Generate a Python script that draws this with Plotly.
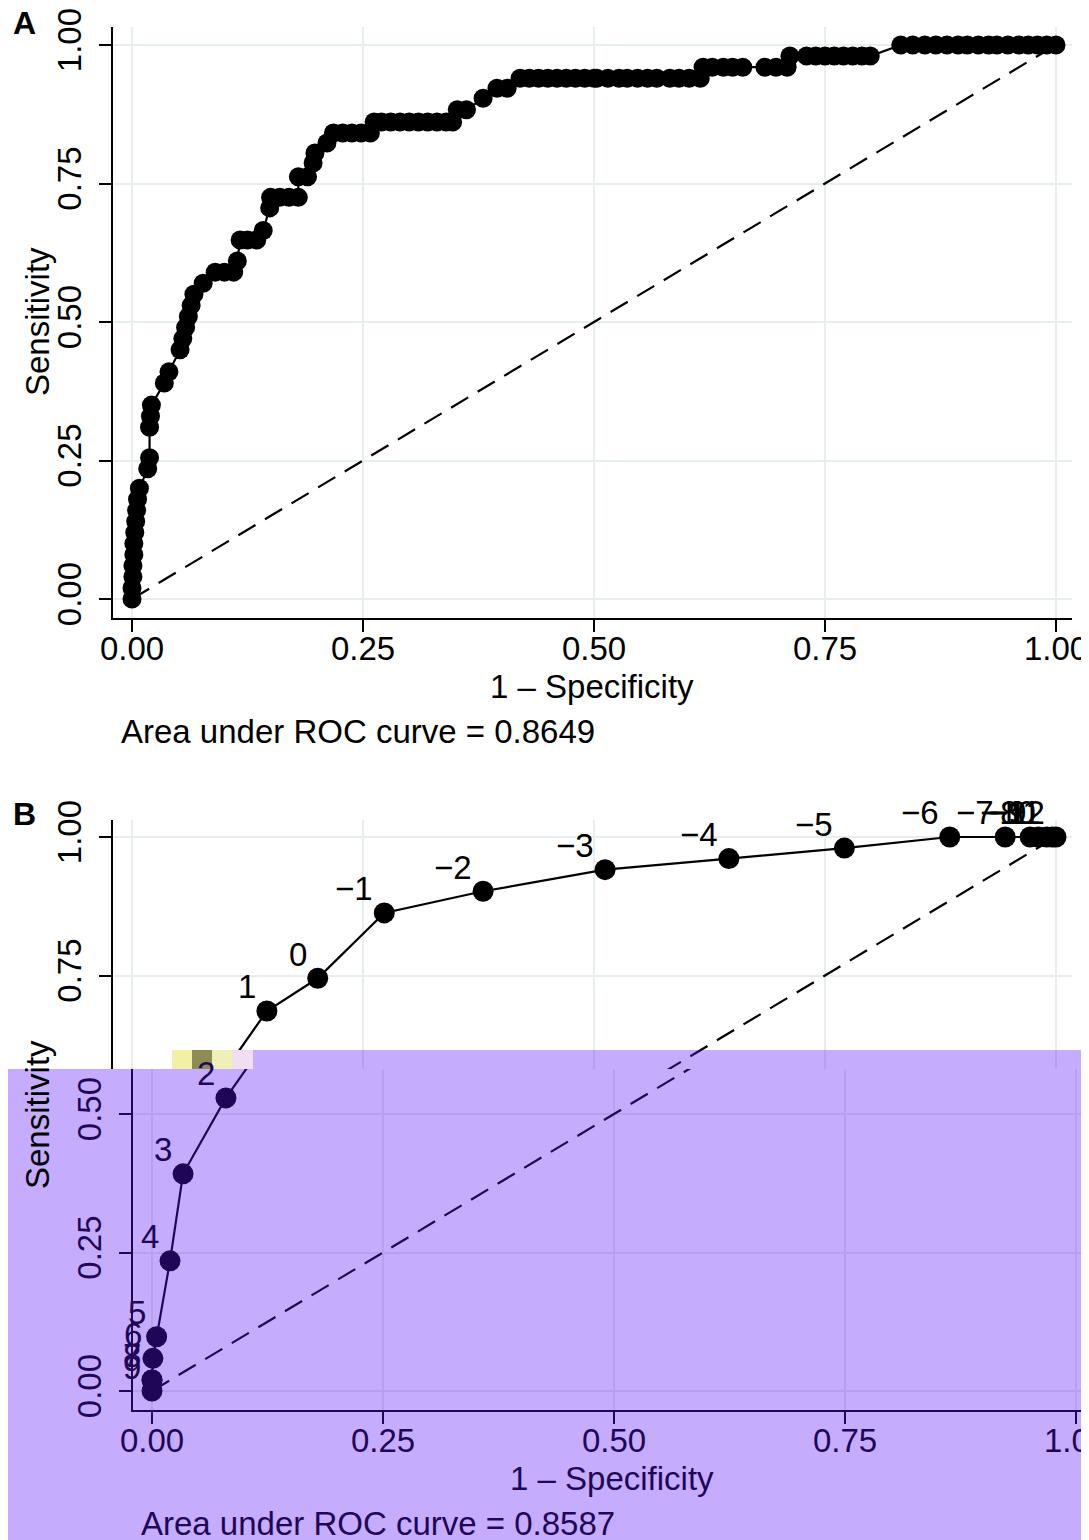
import plotly.graph_objects as go

W, H = 1089, 1540

# ---------------- data ----------------
# Panel A: empirical ROC curve (1 - specificity, sensitivity)
fpr_A = [0, 0, 0.001, 0.001, 0.002, 0.002, 0.003, 0.004, 0.005, 0.006, 0.008,
         0.017, 0.019, 0.019, 0.020, 0.021, 0.035, 0.040,
         0.052, 0.055, 0.058, 0.061, 0.064, 0.067,
         0.077, 0.090, 0.100, 0.110, 0.114,
         0.117, 0.125, 0.135, 0.142,
         0.149, 0.150, 0.160, 0.170, 0.180,
         0.180, 0.190, 0.196, 0.198, 0.211, 0.218, 0.228, 0.238, 0.248, 0.258,
         0.262, 0.270, 0.280, 0.290, 0.300, 0.310, 0.320, 0.330, 0.340, 0.347,
         0.352, 0.362, 0.380, 0.395, 0.406,
         0.420, 0.430, 0.440, 0.450, 0.460, 0.470, 0.480, 0.490, 0.500,
         0.503, 0.515, 0.527, 0.536, 0.547, 0.558, 0.568,
         0.582, 0.592, 0.603, 0.615,
         0.618, 0.628, 0.640, 0.650, 0.661, 0.685, 0.697, 0.709,
         0.712, 0.730, 0.740, 0.750, 0.760, 0.770, 0.780, 0.790, 0.799,
         0.832, 0.845, 0.858, 0.870, 0.882, 0.894, 0.904, 0.916, 0.927,
         0.936, 0.948, 0.960, 0.970, 0.980, 0.990, 1.000]
sens_A = [0, 0.02, 0.04, 0.06, 0.08, 0.10, 0.12, 0.14, 0.16, 0.18, 0.20,
          0.235, 0.255, 0.31, 0.33, 0.35, 0.39, 0.41,
          0.45, 0.47, 0.49, 0.51, 0.53, 0.55,
          0.57, 0.59, 0.59, 0.59, 0.61,
          0.648, 0.648, 0.648, 0.665,
          0.706, 0.725, 0.725, 0.725, 0.725,
          0.762, 0.762, 0.787, 0.805, 0.823, 0.841, 0.841, 0.841, 0.841, 0.841,
          0.861, 0.861, 0.861, 0.861, 0.861, 0.861, 0.861, 0.861, 0.861, 0.861,
          0.883, 0.883, 0.904, 0.922, 0.922,
          0.94, 0.94, 0.94, 0.94, 0.94, 0.94, 0.94, 0.94, 0.94,
          0.94, 0.94, 0.94, 0.94, 0.94, 0.94, 0.94,
          0.94, 0.94, 0.94, 0.94,
          0.96, 0.96, 0.96, 0.96, 0.96, 0.96, 0.96, 0.96,
          0.98, 0.98, 0.98, 0.98, 0.98, 0.98, 0.98, 0.98, 0.98,
          1, 1, 1, 1, 1, 1, 1, 1, 1,
          1, 1, 1, 1, 1, 1, 1]

# Panel B: ROC points at each score cut-off
labels_B = ["9", "8", "7", "6", "5", "4", "3", "2", "1", "0", "−1", "−2", "−3",
            "−4", "−5", "−6", "−7", "−8", "−9", "−10", "−11", "−12"]
fpr_B = [0, 0, 0, 0.001, 0.005, 0.0195, 0.0336, 0.080, 0.146, 0.201, 0.273,
         0.380, 0.512, 0.646, 0.771, 0.885, 0.945, 0.972, 0.981, 0.990, 0.996, 1.0]
sens_B = [0, 0.02, 0.02, 0.059, 0.098, 0.235, 0.392, 0.529, 0.686, 0.745, 0.863,
          0.902, 0.941, 0.961, 0.980, 1, 1, 1, 1, 1, 1, 1]

ref_x = [0, 1]
ref_y = [0, 1]

tick_vals = [0, 0.25, 0.5, 0.75, 1.0]
tick_text = ["0.00", "0.25", "0.50", "0.75", "1.00"]

auc_A = "0.8649"
auc_B = "0.8587"

# ---------------- styling ----------------
FONT = "Liberation Sans, Arial, sans-serif"
FS = 33
GRID = "#e7eeef"
NAVY = "rgb(31,6,87)"
SHIFT = 20   # horizontal offset of the tinted lower block
OFF = 8      # page body margin


def px(x):
    return (x - OFF) / W


def py(y):
    return 1 - (y - OFF) / H


fig = go.Figure()


def add_panel(xa, ya, fpr, sens, msize, lw=2.2):
    fig.add_trace(go.Scatter(x=ref_x, y=ref_y, mode="lines", xaxis=xa, yaxis=ya,
                             line=dict(color="black", width=2.2, dash="20px,11px"),
                             showlegend=False, hoverinfo="skip"))
    fig.add_trace(go.Scatter(x=fpr, y=sens, mode="lines+markers", xaxis=xa, yaxis=ya,
                             line=dict(color="black", width=lw),
                             marker=dict(color="black", size=msize),
                             showlegend=False))


add_panel("x", "y", fpr_A, sens_A, 19)
add_panel("x2", "y2", fpr_B, sens_B, 21)
add_panel("x3", "y3", fpr_B, sens_B, 21)

axis_common = dict(showline=True, linecolor="black", linewidth=2, ticks="outside",
                   ticklen=12, tickwidth=2, tickcolor="black", tickvals=tick_vals,
                   ticktext=tick_text, showgrid=True, gridcolor=GRID, gridwidth=2,
                   zeroline=False, tickfont=dict(family=FONT, size=FS, color="black"),
                   fixedrange=True, automargin=False, ticklabeloverflow="allow")
xaxis_extra = dict(ticklabelstandoff=-12)
yaxis_extra = dict(ticklabelstandoff=5, tickangle=-90)

# pixel geometry: x=0 at 132px, 924 px / unit ; y unit = 554 px
XR = [(113 - 132) / 924, (1072 - 132) / 924]
# Panel A
fig.update_layout(
    xaxis=dict(axis_common, **xaxis_extra, domain=[px(113), px(1072)], range=XR, anchor="y"),
    yaxis=dict(axis_common, **yaxis_extra, domain=[py(618), py(27)],
               range=[(599 - 618) / 554, (599 - 27) / 554], anchor="x"),
)
# Panel B upper (untinted)
fig.update_layout(
    xaxis2=dict(axis_common, domain=[px(113), px(1072)], range=XR, anchor="y2",
                showline=False, ticks="", showticklabels=False),
    yaxis2=dict(axis_common, **yaxis_extra, domain=[py(1069), py(820)],
                range=[(1391 - 1069) / 554, (1391 - 820) / 554], anchor="x2"),
)
# Panel B lower (tinted, shifted)
fig.update_layout(
    xaxis3=dict(axis_common, **xaxis_extra, domain=[px(113 + SHIFT), 1.0],
                range=[(113 - 132) / 924, (W + OFF - 132 - SHIFT) / 924], anchor="y3"),
    yaxis3=dict(axis_common, **yaxis_extra, domain=[py(1410), py(1069)],
                range=[(1391 - 1410) / 554, (1391 - 1069) / 554], anchor="x3"),
)

ann = []
# panel letters
ann.append(dict(text="<b>A</b>", x=px(11), y=py(23), xref="paper", yref="paper",
                xanchor="left", yanchor="middle", showarrow=False,
                font=dict(family=FONT, size=32, color="black")))
ann.append(dict(text="<b>B</b>", x=px(11), y=py(814), xref="paper", yref="paper",
                xanchor="left", yanchor="middle", showarrow=False,
                font=dict(family=FONT, size=32, color="black")))
# axis titles & AUC text
for (txt, x, y, col, ang, anchor) in [
    ("Sensitivity", 37, 322, "black", -90, "center"),
    ("1 – Specificity", 592, 686, "black", 0, "center"),
    ("Area under ROC curve = " + auc_A, 119, 731, "black", 0, "left"),
    ("Sensitivity", 37, 1115, "black", -90, "center"),
    ("1 – Specificity", 592 + SHIFT, 1478, NAVY, 0, "center"),
    ("Area under ROC curve = " + auc_B, 119 + SHIFT, 1523, NAVY, 0, "left"),
]:
    ann.append(dict(text=txt, x=px(x), y=py(y), xref="paper", yref="paper",
                    xanchor=anchor, yanchor="middle", showarrow=False, textangle=ang,
                    font=dict(family=FONT, size=FS, color=col)))
# cut-off labels in panel B
for lab, fx, sy in zip(labels_B, fpr_B, sens_B):
    lower = sy < 0.6
    ann.append(dict(text=lab, x=fx, y=sy,
                    xref="x3" if lower else "x2", yref="y3" if lower else "y2",
                    xanchor="right", yanchor="middle", xshift=-9, yshift=24,
                    showarrow=False,
                    font=dict(family=FONT, size=FS, color=NAVY if lower else "black")))

shapes = [
    # tinted overlay block
    dict(type="rect", xref="paper", yref="paper", x0=px(7), x1=1.0, y0=0, y1=py(1069),
         fillcolor="rgb(89,17,249)", opacity=0.35, line=dict(width=0), layer="above"),
    dict(type="rect", xref="paper", yref="paper", x0=px(253), x1=1.0, y0=py(1069), y1=py(1050),
         fillcolor="rgb(89,17,249)", opacity=0.35, line=dict(width=0), layer="above"),
]
for (x0, x1, c) in [(172, 192, "#f2f0a2"), (192, 212, "#8e8c56"), (212, 232, "#eef0b8"),
                    (232, 253, "#f1def3")]:
    shapes.append(dict(type="rect", xref="paper", yref="paper", x0=px(x0), x1=px(x1),
                       y0=py(1069), y1=py(1050), fillcolor=c, line=dict(width=0),
                       layer="above"))

fig.update_layout(
    width=W, height=H, autosize=False,
    margin=dict(l=0, r=0, t=0, b=0, pad=0, autoexpand=False),
    paper_bgcolor="white", plot_bgcolor="white",
    annotations=ann, shapes=shapes,
    showlegend=False,
    font=dict(family=FONT, size=FS, color="black"),
)

fig.write_html("out.html")
